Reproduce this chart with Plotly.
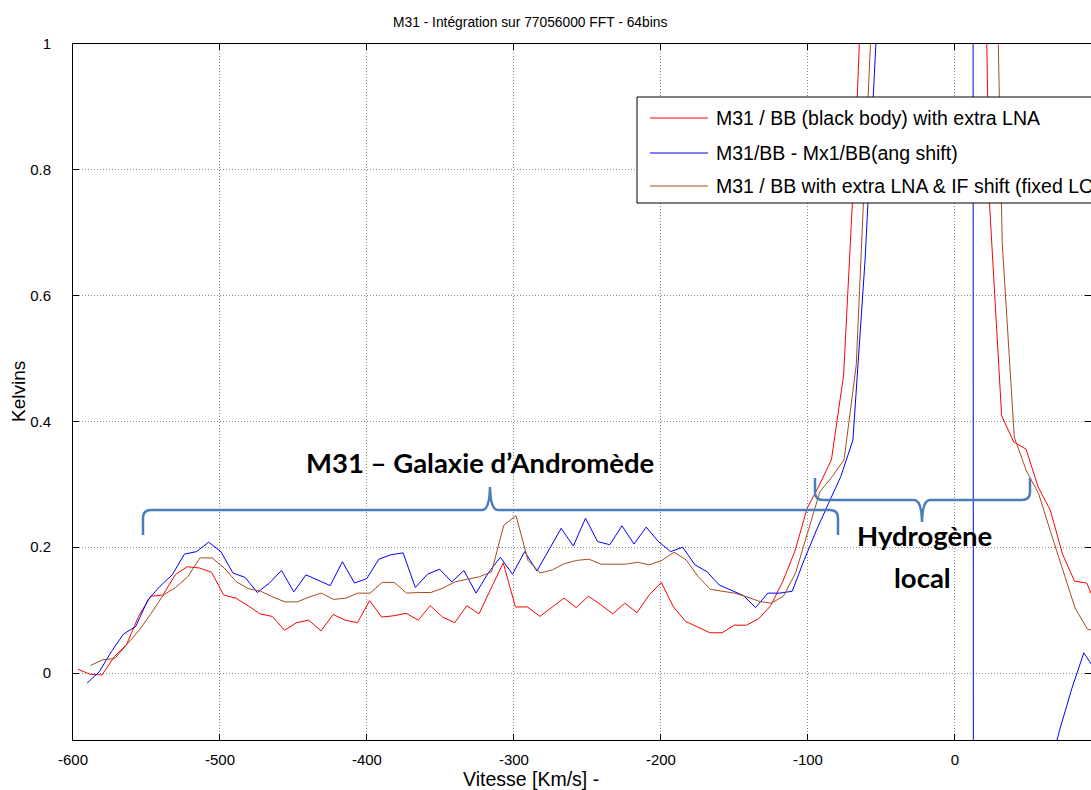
import plotly.graph_objects as go

# ---------------- data ----------------
vel_red = [-596.7, -588.4, -580.2, -571.9, -563.6, -555.4, -547.1, -538.8, -530.5, -522.3,
           -514.0, -505.7, -497.5, -489.2, -480.9, -472.7, -464.4, -456.1, -447.8, -439.6,
           -431.3, -423.0, -414.8, -406.5, -398.2, -390.0, -381.7, -373.4, -365.1, -356.9,
           -348.6, -340.3, -332.1, -323.8, -315.5, -307.3, -299.0, -290.7, -282.4, -274.2,
           -265.9, -257.6, -249.4, -241.1, -232.8, -224.6, -216.3, -208.0, -199.7, -191.5,
           -183.2, -174.9, -166.7, -158.4, -150.1, -141.9, -133.6, -125.3, -117.0, -108.8,
           -100.5, -92.2, -84.0, -75.7, -67.4, -59.2, -50.9, -42.6, -34.3, -26.1,
           -17.8, -9.5, -1.3, 7.0, 15.3, 23.6, 31.8, 40.1, 48.4, 56.6,
           64.9, 73.2, 81.4, 89.7, 98.0]
kelvin_red = [0.006, -0.002, -0.003, 0.026, 0.045, 0.090, 0.122, 0.124, 0.156, 0.169,
              0.167, 0.160, 0.124, 0.119, 0.107, 0.094, 0.090, 0.068, 0.080, 0.084,
              0.067, 0.093, 0.084, 0.080, 0.115, 0.089, 0.091, 0.095, 0.084, 0.107,
              0.089, 0.080, 0.107, 0.094, 0.135, 0.175, 0.105, 0.105, 0.090, 0.105,
              0.119, 0.104, 0.122, 0.109, 0.094, 0.111, 0.096, 0.124, 0.144, 0.105,
              0.082, 0.073, 0.064, 0.064, 0.076, 0.076, 0.086, 0.107, 0.146, 0.194,
              0.262, 0.299, 0.339, 0.474, 0.855, 1.36, 1.9, 2.5, 3.0, 3.3,
              3.2, 2.8, 2.4, 2.1, 1.86, 0.744, 0.409, 0.367, 0.356, 0.296,
              0.259, 0.189, 0.146, 0.143, 0.097]

vel_blue = [-590.4, -582.1, -573.9, -565.6, -557.3, -549.1, -540.8, -532.5, -524.2, -516.0,
            -507.7, -499.4, -491.2, -482.9, -474.6, -466.4, -458.1, -449.8, -441.5, -433.3,
            -425.0, -416.7, -408.5, -400.2, -391.9, -383.7, -375.4, -367.1, -358.8, -350.6,
            -342.3, -334.0, -325.8, -317.5, -309.2, -301.0, -292.7, -284.4, -276.1, -267.9,
            -259.6, -251.3, -243.1, -234.8, -226.5, -218.3, -210.0, -201.7, -193.4, -185.2,
            -176.9, -168.6, -160.4, -152.1, -143.8, -135.6, -127.3, -119.0, -110.7, -102.5,
            -94.2, -85.9, -77.7, -69.4, -61.1, -52.9, -44.6, -36.3, -28.0, -19.8,
            -11.5, -3.2, 5.0, 13.3, 21.6, 29.8, 38.1, 46.4, 54.7, 62.9,
            71.2, 79.5, 87.7, 96.0]
kelvin_blue = [-0.016, 0.002, 0.034, 0.062, 0.074, 0.116, 0.138, 0.156, 0.189, 0.193,
               0.208, 0.193, 0.159, 0.152, 0.128, 0.143, 0.163, 0.129, 0.156, 0.148,
               0.139, 0.177, 0.143, 0.150, 0.181, 0.188, 0.191, 0.136, 0.157, 0.165,
               0.145, 0.163, 0.127, 0.159, 0.184, 0.157, 0.193, 0.162, 0.196, 0.230,
               0.202, 0.246, 0.209, 0.204, 0.234, 0.205, 0.232, 0.209, 0.193, 0.200,
               0.172, 0.161, 0.140, 0.132, 0.123, 0.104, 0.127, 0.127, 0.130, 0.180,
               0.227, 0.270, 0.312, 0.370, 0.657, 1.04, 1.7, 2.5, 3.5, 5.0,
               8.0, 15.0, 50.0, -5.0, -4.0, -2.5, -1.5, -0.8, -0.4, -0.167,
               -0.091, -0.025, 0.032, 0.003]

vel_brown = [-588.1, -579.8, -571.6, -563.3, -555.0, -546.8, -538.5, -530.2, -521.9, -513.7,
             -505.4, -497.1, -488.9, -480.6, -472.3, -464.1, -455.8, -447.5, -439.2, -431.0,
             -422.7, -414.4, -406.2, -397.9, -389.6, -381.4, -373.1, -364.8, -356.5, -348.3,
             -340.0, -331.7, -323.5, -315.2, -306.9, -298.6, -290.4, -282.1, -273.8, -265.6,
             -257.3, -249.0, -240.8, -232.5, -224.2, -215.9, -207.7, -199.4, -191.1, -182.9,
             -174.6, -166.3, -158.1, -149.8, -141.5, -133.2, -125.0, -116.7, -108.4, -100.2,
             -91.9, -83.6, -75.4, -67.1, -58.8, -50.5, -42.3, -34.0, -25.7, -17.5,
             -9.2, -0.9, 7.4, 15.6, 23.9, 32.2, 40.4, 48.7, 57.0, 65.3,
             73.5, 81.8, 90.1, 98.3]
kelvin_brown = [0.012, 0.021, 0.023, 0.045, 0.068, 0.095, 0.124, 0.136, 0.153, 0.183,
                0.183, 0.167, 0.145, 0.134, 0.130, 0.121, 0.113, 0.113, 0.121, 0.127,
                0.117, 0.119, 0.127, 0.127, 0.144, 0.144, 0.127, 0.128, 0.128, 0.135,
                0.145, 0.149, 0.153, 0.161, 0.235, 0.250, 0.179, 0.159, 0.164, 0.174,
                0.179, 0.181, 0.173, 0.173, 0.173, 0.176, 0.172, 0.179, 0.192, 0.180,
                0.153, 0.133, 0.130, 0.127, 0.121, 0.114, 0.111, 0.122, 0.159, 0.223,
                0.288, 0.312, 0.339, 0.490, 0.873, 1.30, 1.8, 2.4, 3.0, 3.4,
                3.5, 3.2, 2.7, 2.2, 1.67, 0.684, 0.375, 0.321, 0.285, 0.223,
                0.164, 0.103, 0.070, 0.064]

series_names = ["M31 / BB (black body) with extra LNA",
                "M31/BB - Mx1/BB(ang shift)",
                "M31 / BB with extra LNA & IF shift (fixed LO)"]
series_colors = ["#ff0000", "#0000ff", "#a64a1e"]

x_ticks = [-600, -500, -400, -300, -200, -100, 0]
x_tick_text = ["-600", "-500", "-400", "-300", "-200", "-100", "0"]
y_ticks = [0, 0.2, 0.4, 0.6, 0.8, 1]
y_tick_text = ["0", "0.2", "0.4", "0.6", "0.8", "1"]

title_text = "M31 - Intégration sur 77056000 FFT - 64bins"
x_title = "Vitesse [Km/s] -"
y_title = "Kelvins"
label_m31 = "M31 – Galaxie d’Andromède"
label_h1 = "Hydrogène"
label_h2 = "local"

# ---------------- layout geometry ----------------
W, H = 1091, 790
L, R, T, B = 73, 0, 44, 50
PW, PH = W - L - R, H - T - B
FONT = "Liberation Sans, Arial, sans-serif"
BOLD = "Lato, Open Sans, sans-serif"
BRACE = "#4a7ebb"


def px(x):
    return (x - L) / PW


def py(y):
    return (H - B - y) / PH


def path(cmds):
    out = []
    for c in cmds:
        if isinstance(c, str):
            out.append(c)
        else:
            out.append(f"{px(c[0]):.5f},{py(c[1]):.5f}")
    return " ".join(out)


fig = go.Figure()
for vx, vy, name, col in [(vel_red, kelvin_red, series_names[0], series_colors[0]),
                          (vel_blue, kelvin_blue, series_names[1], series_colors[1]),
                          (vel_brown, kelvin_brown, series_names[2], series_colors[2])]:
    fig.add_trace(go.Scatter(x=vx, y=vy, mode="lines", name=name,
                             line=dict(color=col, width=1), showlegend=False))

shapes = []
annotations = []

# braces
b1 = path(["M", (143, 535), "L", (143, 518), "Q", (143, 510), (151, 510), "L", (482, 510),
           "Q", (489.5, 510), (490, 487), "Q", (490.5, 510), (498, 510), "L", (830, 510),
           "Q", (838, 510), (838, 518), "L", (838, 535)])
b2 = path(["M", (815, 478), "L", (815, 492), "Q", (815, 500), (823, 500), "L", (914, 500),
           "Q", (921.5, 500), (922, 522), "Q", (922.5, 500), (930, 500), "L", (1022, 500),
           "Q", (1030, 500), (1030, 492), "L", (1030, 478)])
for p in (b1, b2):
    shapes.append(dict(type="path", xref="paper", yref="paper", path=p,
                       line=dict(color=BRACE, width=2.5), layer="above"))

# legend box (drawn manually so it can run past the right edge like the original)
shapes.append(dict(type="rect", xref="paper", yref="paper",
                   x0=px(637), x1=px(1140), y0=py(203), y1=py(97),
                   fillcolor="white", line=dict(color="black", width=1), layer="above"))
for i, ypix in enumerate([118, 153, 186]):
    shapes.append(dict(type="line", xref="paper", yref="paper",
                       x0=px(650), x1=px(708), y0=py(ypix), y1=py(ypix),
                       line=dict(color=series_colors[i], width=1), layer="above"))
    annotations.append(dict(xref="paper", yref="paper", x=px(714), y=py(ypix),
                            text=series_names[i], showarrow=False, xanchor="left",
                            yanchor="middle", font=dict(family=FONT, size=19.5, color="black")))

annotations += [
    dict(xref="paper", yref="paper", x=px(530), y=py(22), text=title_text, showarrow=False,
         xanchor="center", yanchor="middle", font=dict(family=FONT, size=13.8, color="black")),
    dict(xref="paper", yref="paper", x=px(531), y=py(779), text=x_title, showarrow=False,
         xanchor="center", yanchor="middle", font=dict(family=FONT, size=19.5, color="black")),
    dict(xref="paper", yref="paper", x=px(18), y=py(392), text=y_title, showarrow=False,
         textangle=-90, xanchor="center", yanchor="middle",
         font=dict(family=FONT, size=19, color="black")),
    dict(xref="paper", yref="paper", x=px(480), y=py(462), text="<b>" + label_m31 + "</b>",
         showarrow=False, xanchor="center", yanchor="middle",
         font=dict(family=BOLD, size=27.5, color="black")),
    dict(xref="paper", yref="paper", x=px(924), y=py(535), text="<b>" + label_h1 + "</b>",
         showarrow=False, xanchor="center", yanchor="middle",
         font=dict(family=BOLD, size=27.5, color="black")),
    dict(xref="paper", yref="paper", x=px(922), y=py(577), text="<b>" + label_h2 + "</b>",
         showarrow=False, xanchor="center", yanchor="middle",
         font=dict(family=BOLD, size=27.5, color="black")),
]

fig.update_layout(
    width=W, height=H, autosize=False,
    margin=dict(l=L, r=R, t=T, b=B, pad=0),
    paper_bgcolor="white", plot_bgcolor="white",
    showlegend=False,
    shapes=shapes, annotations=annotations,
    font=dict(family=FONT, size=15, color="black"),
)
fig.update_xaxes(range=[-600, 92.6], tickvals=x_ticks, ticktext=x_tick_text,
                 ticks="inside", ticklen=6,
                 tickcolor="black", showline=True, linecolor="black", linewidth=1,
                 mirror="ticks", showgrid=True, gridcolor="#8c8c8c", gridwidth=1,
                 griddash="1px,2px", zeroline=False, ticklabelstandoff=6,
                 tickfont=dict(family=FONT, size=15, color="black"))
fig.update_yaxes(range=[-0.1065, 1.0], tickvals=y_ticks, ticktext=y_tick_text,
                 ticks="inside", ticklen=6, tickcolor="black", showline=True,
                 linecolor="black", linewidth=1, mirror="ticks", showgrid=True,
                 gridcolor="#8c8c8c", gridwidth=1, griddash="1px,2px", zeroline=False,
                 ticklabelstandoff=18,
                 tickfont=dict(family=FONT, size=15, color="black"))

fig.write_html("out.html", config={"displayModeBar": False},
               post_script="document.body.style.margin='0';"
                           "document.body.style.overflow='hidden';"
                           "document.documentElement.style.overflow='hidden';")
